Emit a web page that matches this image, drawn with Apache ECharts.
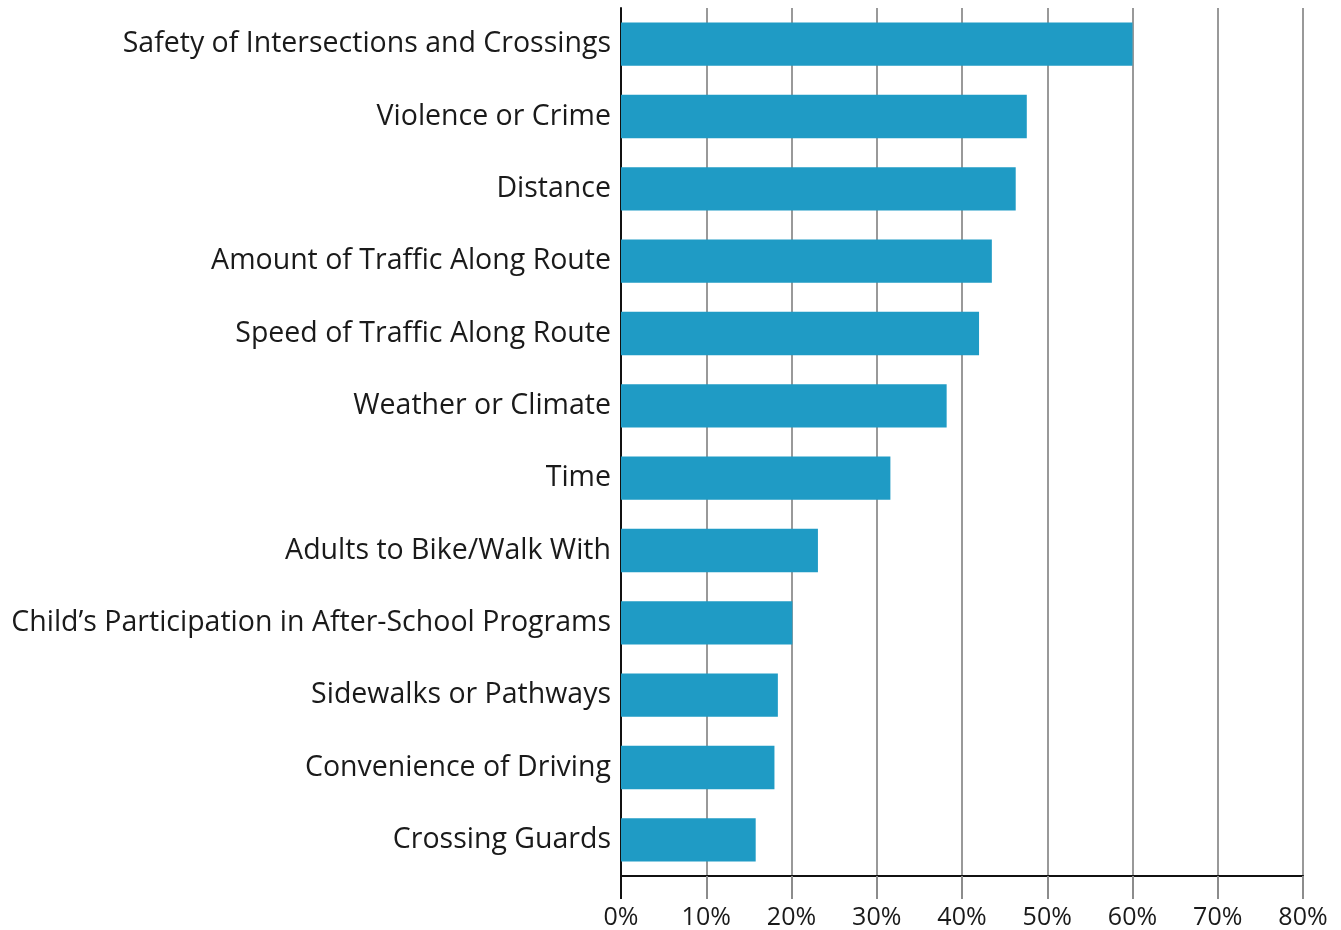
<!DOCTYPE html>
<html>
<head>
<meta charset="utf-8">
<script src="https://cdn.jsdelivr.net/npm/echarts@6/dist/echarts.min.js"></script>
<style>
html,body{margin:0;padding:0;background:#fff;}
#chart{width:1341px;height:930px;}
</style>
</head>
<body>
<div id="chart"></div>
<script>
const categories = [
  "Safety of Intersections and Crossings",
  "Violence or Crime",
  "Distance",
  "Amount of Traffic Along Route",
  "Speed of Traffic Along Route",
  "Weather or Climate",
  "Time",
  "Adults to Bike/Walk With",
  "Child\u2019s Participation in After-School Programs",
  "Sidewalks or Pathways",
  "Convenience of Driving",
  "Crossing Guards"
];
const values = [60.0, 47.6, 46.3, 43.5, 42.0, 38.2, 31.6, 23.1, 20.1, 18.4, 18.0, 15.8];
const xTicks = [0, 10, 20, 30, 40, 50, 60, 70, 80];

const FONT = "Open Sans";
const chart = echarts.init(document.getElementById('chart'));
chart.setOption({
  animation: false,
  grid: { left: 621, right: 38, top: 8, bottom: 53, containLabel: false },
  xAxis: [{
    type: 'value', min: 0, max: 80, interval: 10,
    axisLine: { show: true, onZero: false, lineStyle: { color: '#111', width: 2 } },
    axisTick: { show: true, inside: false, length: 23, lineStyle: { color: '#8c8c8c', width: 2 } },
    splitLine: { show: true, lineStyle: { color: '#999', width: 2 } },
    axisLabel: { margin: 29, fontFamily: FONT, fontSize: 25, color: '#1a1a1a',
      formatter: v => v + '%' }
  }, {
    type: 'value', min: 0, max: 80, position: 'bottom',
    axisLine: { show: false }, splitLine: { show: false }, axisLabel: { show: false },
    axisTick: { show: true, customValues: [0], length: 23, lineStyle: { color: '#111', width: 2 } }
  }],
  yAxis: {
    type: 'category', data: categories, inverse: true,
    axisLine: { show: true, lineStyle: { color: '#111', width: 2 } },
    axisTick: { show: false },
    axisLabel: { margin: 10, fontFamily: FONT, fontSize: 28.5, color: '#1a1a1a' }
  },
  series: [{
    type: 'bar', data: values, barCategoryGap: '40%',
    itemStyle: { color: '#1f9bc5' }
  }]
});
</script>
</body>
</html>
